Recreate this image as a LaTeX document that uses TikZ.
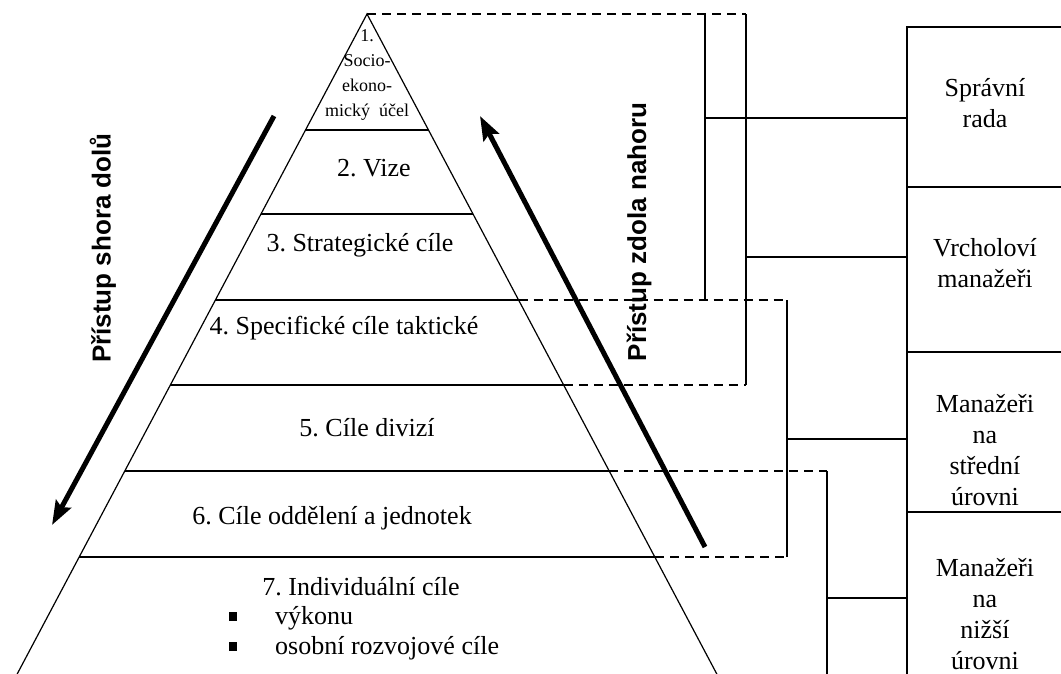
\documentclass[tikz,border=0pt]{standalone}
\usepackage{fontspec}
\setmainfont{Liberation Serif}
\newfontfamily\arialfont{Liberation Sans}
\usetikzlibrary{arrows.meta}
\frenchspacing

\tikzset{
  edge/.style={line width=1.2pt},
  stage/.style={font=\fontsize{26}{31}\selectfont, align=center, inner sep=0pt},
  apextext/.style={font=\fontsize{18}{25}\selectfont, align=center, inner sep=0pt},
  approach/.style={font=\arialfont\bfseries\fontsize{26}{30}\selectfont, rotate=90, inner sep=0pt},
  manbox/.style={draw, line width=1.3pt, fill=white, minimum width=156pt, inner sep=0pt},
  bracket/.style={line width=1.3pt},
  guide/.style={line width=1.3pt, dash pattern=on 9pt off 6pt},
  bigarrow/.style={line width=5pt, -{Stealth[length=24pt,width=17pt,inset=4pt]}},
}

\begin{document}
\begin{tikzpicture}[x=1pt,y=-1pt]
\useasboundingbox (0,0) rectangle (1061,673);
% pyramida
\coordinate (apex) at (367,14);
\draw[edge] (14,680) -- (apex) -- (720,680);
\foreach \n/\y in {1/130,2/214,3/300,4/385,5/471,6/557}{
  \coordinate (L\n) at ({367-(\y-14)*0.5304},\y);
  \coordinate (R\n) at ({367+(\y-14)*0.5304},\y);
  \draw[edge] (L\n) -- (R\n);
}
\node[apextext] (cil1) at (367,75) {1.\\Socio-\\ekono-\\mický~~účel};
\node[stage] (cil2) at (374,168) {2. Vize};
\node[stage] (cil3) at (360,245) {3. Strategické cíle};
\node[stage] (cil4) at (344,328) {4. Specifické cíle taktické};
\node[stage] (cil5) at (367,428) {5. Cíle divizí};
\node[stage] (cil6) at (332,518) {6. Cíle oddělení a jednotek};
\node[stage] (cil7) at (361,587) {7. Individuální cíle};
\node[stage, anchor=west] (vykon) at (229,618) {\makebox[46pt][l]{\rule[3pt]{8pt}{9pt}}výkonu};
\node[stage, anchor=west] (rozvoj) at (229,648) {\makebox[46pt][l]{\rule[3pt]{8pt}{9pt}}osobní rozvojové cíle};

% sipky
\coordinate (dA) at (274,116);
\coordinate (dB) at (52,525);
\draw[bigarrow] (dA) -- (dB);
\node[approach] (shora) at (103,248) {Přístup shora dolů};
\coordinate (uA) at (705,547);
\coordinate (uB) at (480,116);
\draw[bigarrow] (uA) -- (uB);
\node[approach] (zdola) at (639,232) {Přístup zdola nahoru};

% zavorky
\coordinate (ta) at (705,14);
\coordinate (tb) at (705,300);
\coordinate (tm) at (705,118);
\coordinate (ua) at (746,14);
\coordinate (ub) at (746,385);
\coordinate (um) at (746,257);
\coordinate (va) at (787,300);
\coordinate (vb) at (787,557);
\coordinate (vm) at (787,439);
\coordinate (wa) at (827,471);
\coordinate (wb) at (827,690);
\coordinate (wm) at (827,598);
\draw[guide] (apex) -- (ua);
\draw[guide] (R3) -- (va);
\draw[guide] (R4) -- (ub);
\draw[guide] (R5) -- (wa);
\draw[guide] (R6) -- (vb);
\draw[bracket] (ta) -- (tb);
\draw[bracket] (ua) -- (ub);
\draw[bracket] (va) -- (vb);
\draw[bracket] (wa) -- (wb);

% manazeri
\node[manbox, minimum height=160pt] (rada) at (985,107) {};
\node[stage] (radaT) at (985,103) {Správní\\rada};
\node[manbox, minimum height=165pt] (vrchol) at (985,269.5) {};
\node[stage] (vrcholT) at (985,263) {Vrcholoví\\manažeři};
\node[manbox, minimum height=160pt] (stred) at (985,432) {};
\node[stage] (stredT) at (985,450) {Manažeři\\na\\střední\\úrovni};
\node[manbox, minimum height=180pt] (nizsi) at (985,602) {};
\node[stage] (nizsiT) at (985,614) {Manažeři\\na\\nižší\\úrovni};
\draw[bracket] (tm) -- (tm -| rada.west);
\draw[bracket] (um) -- (um -| vrchol.west);
\draw[bracket] (vm) -- (vm -| stred.west);
\draw[bracket] (wm) -- (wm -| nizsi.west);
\end{tikzpicture}
\end{document}
